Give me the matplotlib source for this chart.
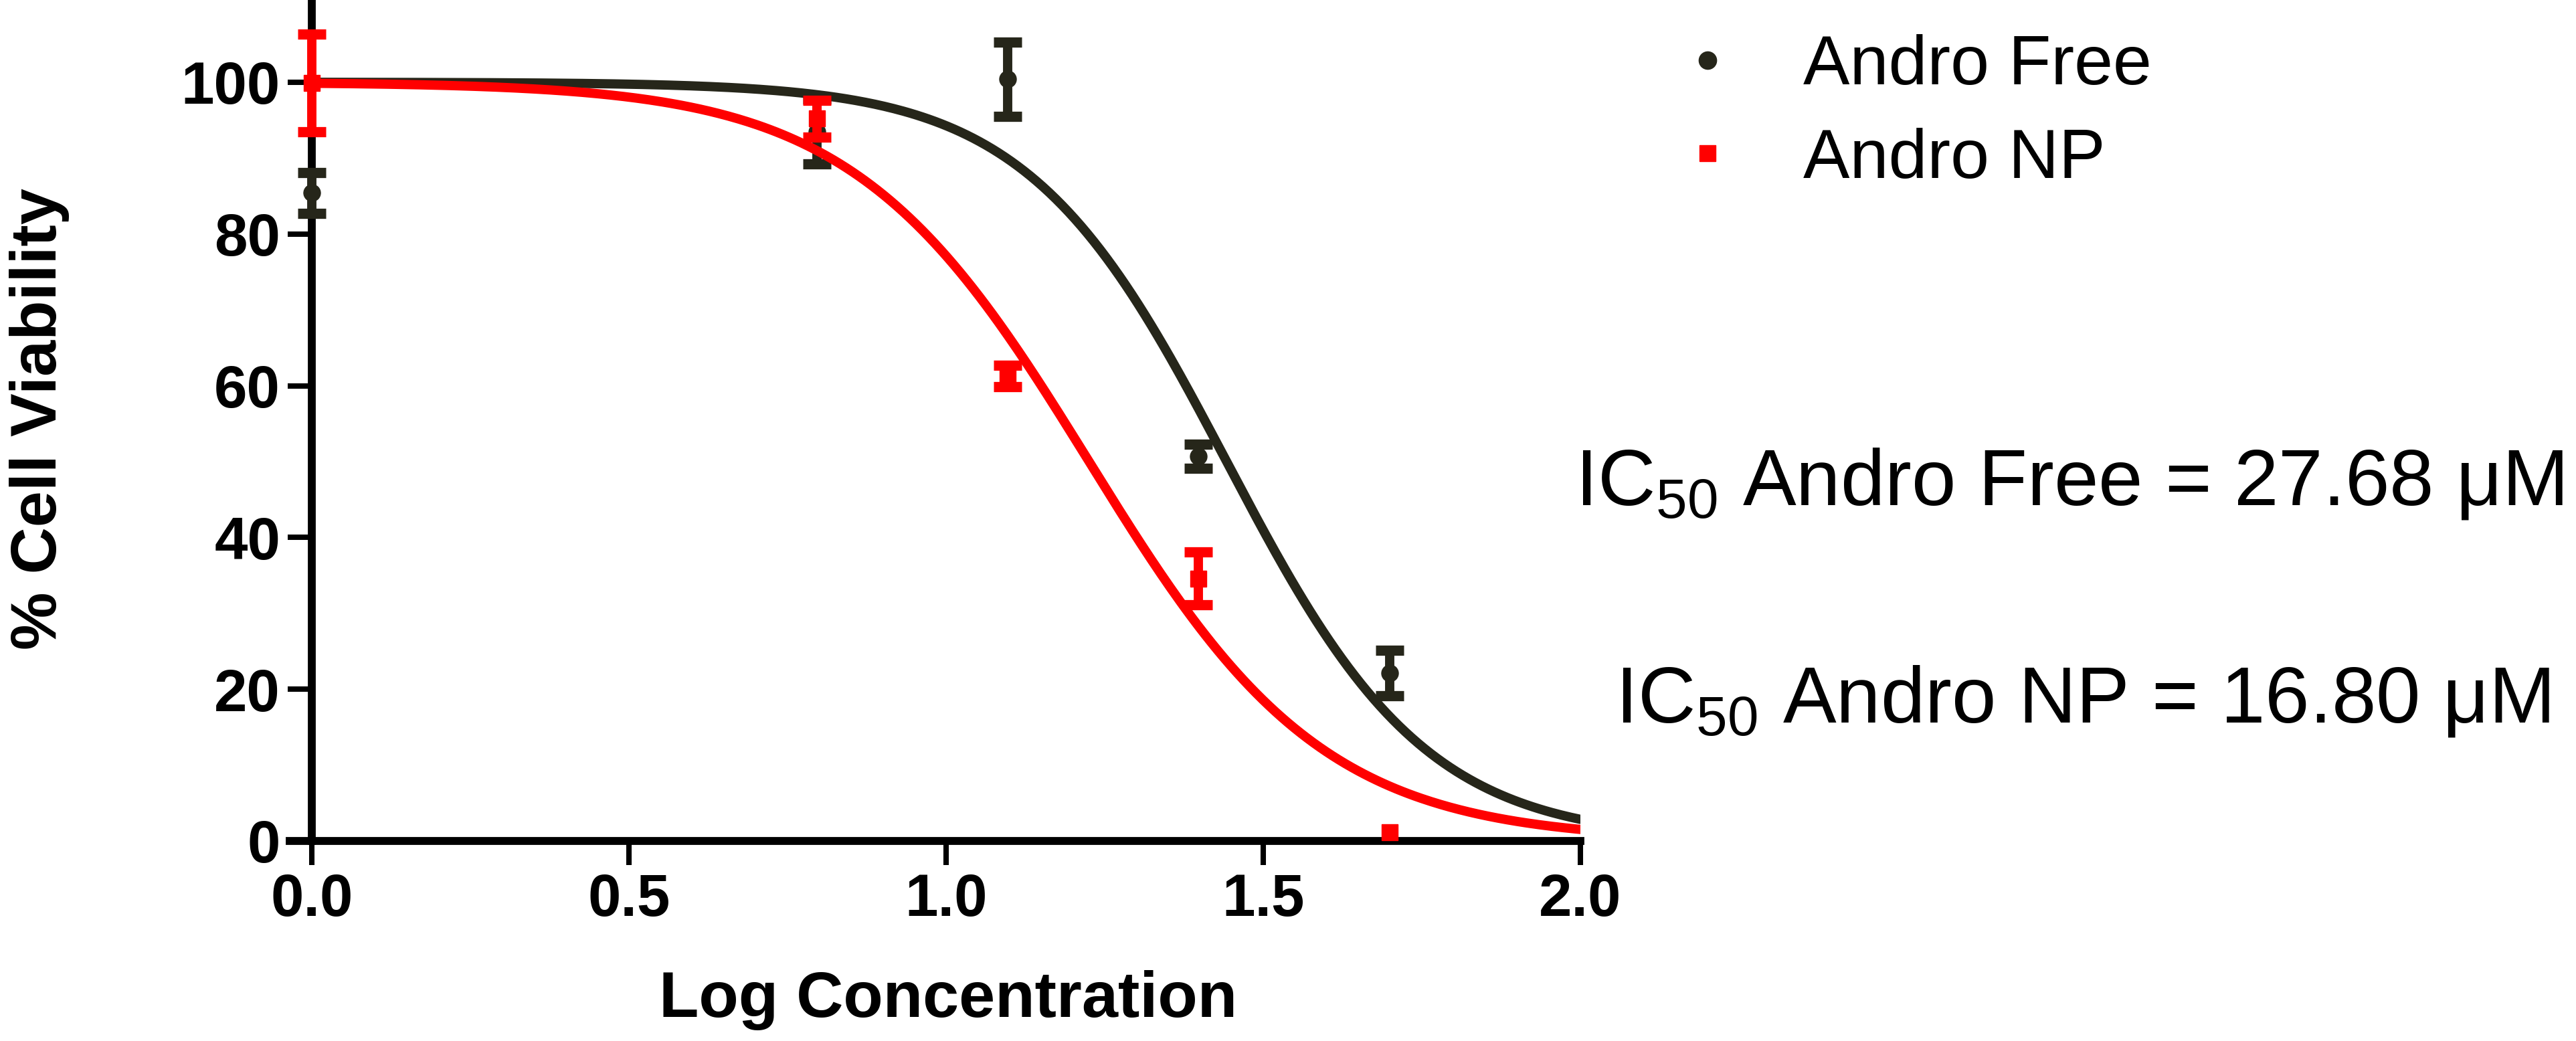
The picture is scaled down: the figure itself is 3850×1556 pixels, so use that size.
import numpy as np
import matplotlib.pyplot as plt

plt.rcParams["font.family"] = ["Liberation Sans", "DejaVu Sans"]
plt.rcParams["mathtext.fontset"] = "custom"
plt.rcParams["mathtext.rm"] = "Liberation Sans"

# data (mean +/- error, % viability)
log_conc = [0.0, 0.796, 1.097, 1.398, 1.699]
free_mean = [85.4, 93.5, 100.4, 50.7, 22.1]
free_err = [2.7, 4.3, 4.9, 1.6, 3.0]
np_mean = [99.9, 95.2, 61.3, 34.6, 1.1]
np_err = [6.4, 2.4, 1.4, 3.5, np.nan]  # bar hidden behind the symbol

# fitted dose-response parameters (IC50 in uM as printed on the chart)
ic50_free = 27.68
ic50_np = 16.80
hill_free = 2.75
hill_np = 2.34
top = 100.0
bottom = 0.0

x_ticks = [0.0, 0.5, 1.0, 1.5, 2.0]
x_ticklabels = ["0.0", "0.5", "1.0", "1.5", "2.0"]
y_ticks = [0, 20, 40, 60, 80, 100]

DARK = "#26261a"
RED = "#ff0000"


def dose_response(x, log_ic50, hill):
    return bottom + (top - bottom) / (1 + 10 ** ((x - log_ic50) * hill))


fig = plt.figure(figsize=(38.5, 15.56), dpi=100)
ax = fig.add_axes([0.1125, 0.1922, 0.5010, 0.8046])

xs = np.linspace(0.0, 2.0, 400)

ax.plot(xs, dose_response(xs, np.log10(ic50_free), hill_free), color=DARK, lw=10,
        solid_capstyle="round", zorder=2)
ax.errorbar(log_conc, free_mean, yerr=free_err, fmt="none", ecolor=DARK,
            elinewidth=10, capsize=15, capthick=11, zorder=3)
ax.plot(log_conc, free_mean, "o", color=DARK, ms=18, label="Andro Free", zorder=3)

ax.plot(xs, dose_response(xs, np.log10(ic50_np), hill_np), color=RED, lw=10,
        solid_capstyle="round", zorder=4)
ax.errorbar(log_conc, np_mean, yerr=np_err, fmt="none", ecolor=RED,
            elinewidth=10, capsize=15, capthick=11, zorder=5)
ax.plot(log_conc, np_mean, "s", color=RED, ms=17, label="Andro NP", zorder=5)

ax.set_xlim(-0.035, 2.0)
ax.set_ylim(0, 110.4)

for side in ["top", "right"]:
    ax.spines[side].set_visible(False)
for side in ["left", "bottom"]:
    ax.spines[side].set_linewidth(8.5)
    ax.spines[side].set_color("black")
ax.spines["left"].set_position(("data", 0))

ax.set_xticks(x_ticks)
ax.set_xticklabels(x_ticklabels)
ax.set_yticks(y_ticks)
ax.tick_params(direction="out", length=26, width=5.8, pad=8, labelsize=64, colors="black")
for lbl in ax.get_xticklabels() + ax.get_yticklabels():
    lbl.set_fontweight("bold")

ax.set_xlabel("Log Concentration", fontsize=70, fontweight="bold")
ax.set_ylabel("% Cell Viability", fontsize=70, fontweight="bold")
ax.xaxis.set_label_coords(0.510, -0.154)
ax.yaxis.set_label_coords(-0.1706, 0.504)

ax.legend(loc="upper left", bbox_to_anchor=(0.6494, 0.9672), bbox_transform=fig.transFigure,
          frameon=False, fontsize=75, handlelength=1.0, handletextpad=0.87,
          labelspacing=0.41, borderpad=0, borderaxespad=0, numpoints=1, markerscale=1.05)

fig.text(2354 / 3850, 1 - 755 / 1556, r"IC$_{50}$ Andro Free = %.2f μM" % ic50_free,
         fontsize=86, ha="left", va="baseline")
fig.text(2414 / 3850, 1 - 1080 / 1556, r"IC$_{50}$ Andro NP = %.2f μM" % ic50_np,
         fontsize=86, ha="left", va="baseline")

fig.savefig("out.png", dpi=100, facecolor="white")
